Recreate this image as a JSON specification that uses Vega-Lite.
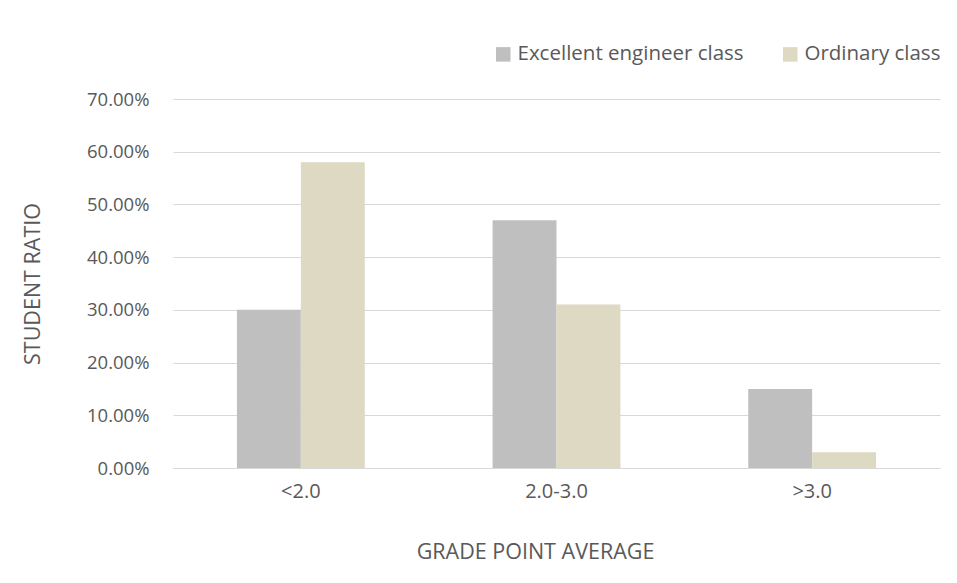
{
  "$schema": "https://vega.github.io/schema/vega-lite/v6.json",
  "width": 767,
  "height": 369,
  "autosize": {"type": "none"},
  "padding": {"left": 173, "top": 99, "right": 17, "bottom": 115},
  "background": "white",
  "config": {
    "font": "Open Sans",
    "view": {"stroke": null}
  },
  "data": {
    "values": [
      {"gpa": "<2.0", "cls": "Excellent engineer class", "v": 0.30},
      {"gpa": "<2.0", "cls": "Ordinary class", "v": 0.58},
      {"gpa": "2.0-3.0", "cls": "Excellent engineer class", "v": 0.47},
      {"gpa": "2.0-3.0", "cls": "Ordinary class", "v": 0.31},
      {"gpa": ">3.0", "cls": "Excellent engineer class", "v": 0.15},
      {"gpa": ">3.0", "cls": "Ordinary class", "v": 0.03}
    ]
  },
  "mark": {"type": "bar"},
  "encoding": {
    "x": {
      "field": "gpa", "type": "nominal", "sort": ["<2.0", "2.0-3.0", ">3.0"],
      "scale": {"paddingInner": 0.5, "paddingOuter": 0.25},
      "axis": {"title": "GRADE POINT AVERAGE", "labelAngle": 0, "ticks": false, "domainColor": "#d9d9d9", "labelPadding": 13, "titlePadding": 40, "titleX": 362,
        "labelFontSize": 20, "titleFontSize": 21.5, "titleFontWeight": "normal", "labelColor": "#595959", "titleColor": "#595959"}
    },
    "xOffset": {"field": "cls", "type": "nominal", "scale": {"paddingInner": 0, "paddingOuter": 0}},
    "y": {
      "field": "v", "type": "quantitative",
      "scale": {"domain": [0, 0.7], "nice": false, "zero": true},
      "axis": {"title": "STUDENT RATIO", "format": ".2%", "values": [0, 0.1, 0.2, 0.3, 0.4, 0.5, 0.6, 0.7], "labelOverlap": false, "ticks": false, "domain": false, "gridColor": "#d9d9d9", "labelPadding": 24, "titlePadding": 42,
        "labelFontSize": 18.5, "titleFontSize": 21.5, "titleFontWeight": "normal", "labelColor": "#595959", "titleColor": "#595959"}
    },
    "color": {
      "field": "cls", "type": "nominal",
      "scale": {"domain": ["Excellent engineer class", "Ordinary class"], "range": ["#bfbfbf", "#ddd9c3"]},
      "legend": {
        "title": null, "orient": "none", "direction": "horizontal",
        "legendX": 320, "legendY": -55,
        "symbolType": "square", "symbolSize": 210, "symbolStrokeWidth": 0,
        "labelFontSize": 20.5, "labelColor": "#595959", "labelLimit": 400, "columnPadding": 36, "labelOffset": 4
      }
    }
  }
}
